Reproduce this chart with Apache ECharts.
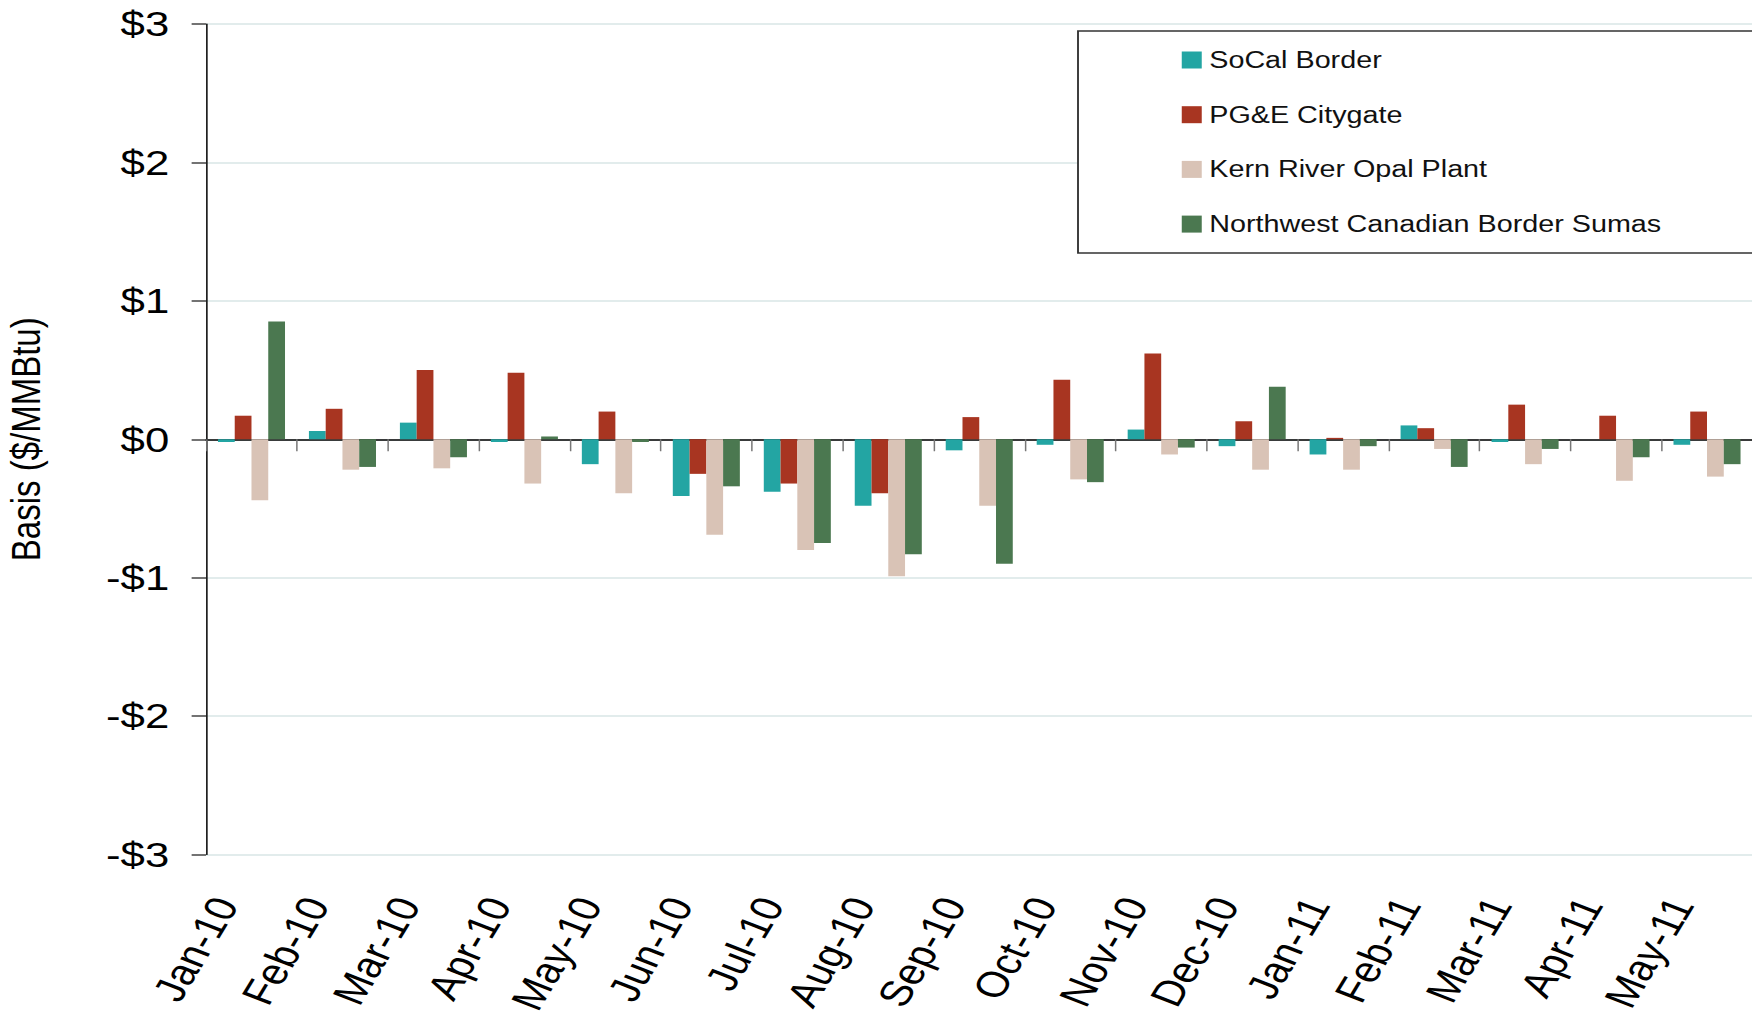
<!DOCTYPE html>
<html>
<head>
<meta charset="utf-8">
<script src="https://cdn.jsdelivr.net/npm/echarts@6/dist/echarts.min.js"></script>
<style>
  html, body { margin: 0; padding: 0; background: #ffffff; overflow: hidden; }
  #wrap { width: 1752px; height: 1019px; overflow: hidden; }
  /* the reference is drawn with horizontally widened text; reproduce by widening the whole chart */
  #chart { width: 1401.6px; height: 1019px; transform: scaleX(1.25); transform-origin: 0 0; }
</style>
</head>
<body>
<div id="wrap"><div id="chart"></div></div>
<script>
const categories = ['Jan-10','Feb-10','Mar-10','Apr-10','May-10','Jun-10','Jul-10','Aug-10','Sep-10','Oct-10','Nov-10','Dec-10','Jan-11','Feb-11','Mar-11','Apr-11','May-11'];
const socalBorder = [-0.02, 0.06, 0.12, -0.02, -0.18, -0.41, -0.38, -0.48, -0.08, -0.04, 0.07, -0.05, -0.11, 0.10, -0.02, 0.00, -0.04];
const pgeCitygate = [0.17, 0.22, 0.50, 0.48, 0.20, -0.25, -0.32, -0.39, 0.16, 0.43, 0.62, 0.13, 0.01, 0.08, 0.25, 0.17, 0.20];
const kernRiver = [-0.44, -0.22, -0.21, -0.32, -0.39, -0.69, -0.80, -0.99, -0.48, -0.29, -0.11, -0.22, -0.22, -0.07, -0.18, -0.30, -0.27];
const nwSumas = [0.85, -0.20, -0.13, 0.02, -0.02, -0.34, -0.75, -0.83, -0.90, -0.31, -0.06, 0.38, -0.05, -0.20, -0.07, -0.13, -0.18];
const seriesNames = ['SoCal Border', 'PG&E Citygate', 'Kern River Opal Plant', 'Northwest Canadian Border Sumas'];
const seriesColors = ['#23a5a3', '#a83521', '#d9c3b6', '#4b7850'];

const FONT = '"Liberation Sans", Arial, sans-serif';
const chart = echarts.init(document.getElementById('chart'), null, { renderer: 'svg' });
const dataSets = [socalBorder, pgeCitygate, kernRiver, nwSumas];

chart.setOption({
  animation: false,
  backgroundColor: '#ffffff',
  grid: { left: 164.8, right: 0, top: 24, bottom: 164.5, containLabel: false, outerBoundsMode: 'none' },
  legend: {
    orient: 'vertical',
    left: 862.4,
    top: 31,
    icon: 'rect',
    itemWidth: 16,
    itemHeight: 17,
    itemGap: 31.7,
    padding: [17.5, 100, 17.5, 83],
    borderColor: '#333',
    borderWidth: 1.5,
    backgroundColor: '#ffffff',
    textStyle: { fontFamily: FONT, fontSize: 23, color: '#111', padding: [0, 0, 0, 1] },
    data: seriesNames
  },
  xAxis: {
    type: 'category',
    data: categories,
    boundaryGap: true,
    axisLine: { onZero: true, lineStyle: { color: '#000', width: 1.5 } },
    axisTick: { show: true, length: 12, alignWithLabel: false, lineStyle: { color: '#777', width: 1.2 } },
    axisLabel: {
      rotate: 64, margin: 44, fontFamily: FONT, fontSize: 36, lineHeight: 36,
      color: '#000', interval: 0, verticalAlign: 'bottom', padding: [0, 10, 0, 0]
    },
    splitLine: { show: false }
  },
  yAxis: {
    type: 'value',
    min: -3, max: 3, interval: 1,
    name: 'Basis ($/MMBtu)',
    nameLocation: 'middle',
    nameRotate: 90,
    nameGap: 128,
    nameTextStyle: { fontFamily: FONT, fontSize: 33, color: '#000' },
    axisLine: { show: true, lineStyle: { color: '#000', width: 1.2 } },
    axisTick: { show: true, length: 11.5, lineStyle: { color: '#444', width: 1.5 } },
    axisLabel: {
      margin: 29.4, fontFamily: FONT, fontSize: 35, color: '#000',
      formatter: v => (v < 0 ? '-$' + Math.abs(v) : '$' + v)
    },
    splitLine: { show: true, lineStyle: { color: '#d8e6e6', width: 1.5 } }
  },
  series: seriesNames.map((n, i) => ({
    name: n,
    type: 'bar',
    data: dataSets[i],
    barGap: '0%',
    barCategoryGap: '26.3%',
    itemStyle: { color: seriesColors[i] }
  }))
});
</script>
</body>
</html>
